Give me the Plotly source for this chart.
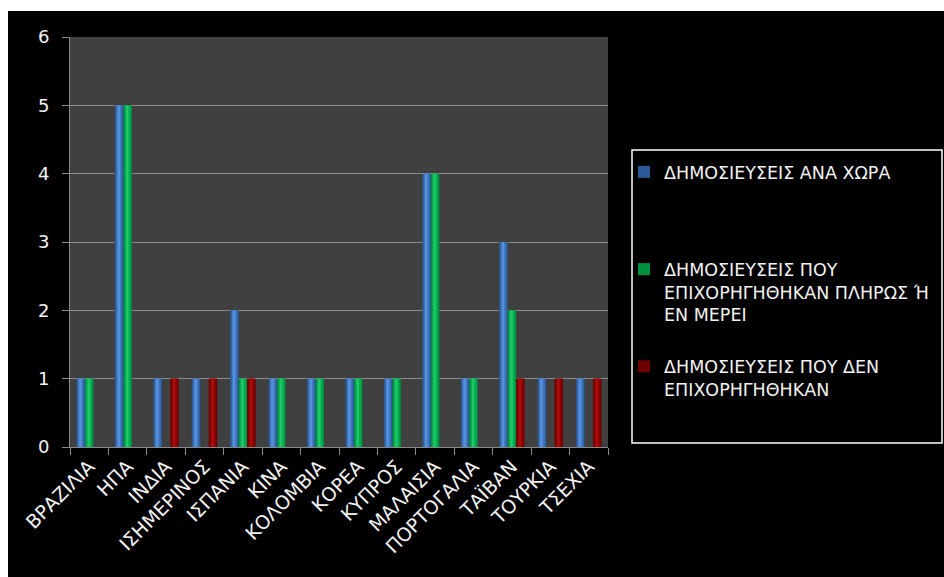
import plotly.graph_objects as go

# Publications per country, split by funding status
countries = ["ΒΡΑΖΙΛΙΑ", "ΗΠΑ", "ΙΝΔΙΑ", "ΙΣΗΜΕΡΙΝΟΣ", "ΙΣΠΑΝΙΑ", "ΚΙΝΑ", "ΚΟΛΟΜΒΙΑ",
             "ΚΟΡΕΑ", "ΚΥΠΡΟΣ", "ΜΑΛΑΙΣΙΑ", "ΠΟΡΤΟΓΑΛΙΑ", "ΤΑΪΒΑΝ", "ΤΟΥΡΚΙΑ", "ΤΣΕΧΙΑ"]
per_country = [1, 5, 1, 1, 2, 1, 1, 1, 1, 4, 1, 3, 1, 1]
funded = [1, 5, 0, 0, 1, 1, 1, 1, 1, 4, 1, 2, 0, 0]
not_funded = [0, 0, 1, 1, 1, 0, 0, 0, 0, 0, 0, 1, 1, 1]

series_names = [
    "ΔΗΜΟΣΙΕΥΣΕΙΣ ΑΝΑ ΧΩΡΑ<br> <br> ",
    "ΔΗΜΟΣΙΕΥΣΕΙΣ ΠΟΥ<br>ΕΠΙΧΟΡΗΓΗΘΗΚΑΝ ΠΛΗΡΩΣ Ή<br>ΕΝ ΜΕΡΕΙ",
    "ΔΗΜΟΣΙΕΥΣΕΙΣ ΠΟΥ ΔΕΝ<br>ΕΠΙΧΟΡΗΓΗΘΗΚΑΝ",
]
y_ticks = [0, 1, 2, 3, 4, 5, 6]

# (edge, mid, highlight) shades for the cylinder-like bars
shades = [
    ("#2c5a98", "#3d74bd", "#5690da"),
    ("#00903f", "#00ad4f", "#22c668"),
    ("#6e0000", "#8c0000", "#a81010"),
]

BW = 0.22
offsets = [-0.33, -0.11, 0.11]
FONT = "DejaVu Sans"

fig = go.Figure()
for i, vals in enumerate([per_country, funded, not_funded]):
    edge, mid, hi = shades[i]
    # base bar
    fig.add_trace(go.Bar(
        x=countries, y=vals, name=series_names[i], legendgroup=f"g{i}",
        width=BW, offset=offsets[i], marker=dict(color=edge, line=dict(width=0)),
        hoverinfo="x+y",
    ))
    # inner shading layers
    fig.add_trace(go.Bar(
        x=countries, y=vals, showlegend=False, legendgroup=f"g{i}",
        width=BW * 0.7, offset=offsets[i] + BW * 0.15,
        marker=dict(color=mid, line=dict(width=0)), hoverinfo="skip",
    ))
    fig.add_trace(go.Bar(
        x=countries, y=vals, showlegend=False, legendgroup=f"g{i}",
        width=BW * 0.3, offset=offsets[i] + BW * 0.3,
        marker=dict(color=hi, line=dict(width=0)), hoverinfo="skip",
    ))

L, R, T, B = 70, 336, 37, 130
pw, ph = 944 - L - R, 577 - T - B

def px_x(p):
    return (p - L) / pw

def px_y(p):
    return (577 - B - p) / ph

fig.update_layout(
    width=944, height=577,
    margin=dict(l=L, r=R, t=T, b=B, autoexpand=False),
    paper_bgcolor="black",
    plot_bgcolor="#404040",
    barmode="overlay",
    font=dict(family=FONT, color="white"),
    showlegend=True,
    legend=dict(
        x=px_x(624), xanchor="left",
        y=px_y(154), yanchor="top",
        bgcolor="rgba(0,0,0,0)", borderwidth=0,
        font=dict(family=FONT, size=17.5, color="#f2f2f2"),
        valign="top", tracegroupgap=26,
        itemwidth=30,
    ),
    xaxis=dict(
        type="category", tickangle=-45, tickson="boundaries",
        ticks="outside", ticklen=7, tickcolor="#8a8a8a",
        showline=True, linecolor="#8a8a8a", linewidth=1,
        showgrid=False, tickfont=dict(family=FONT, size=19, color="#f2f2f2"),
        range=[-0.5, len(countries) - 0.5], automargin=False,
    ),
    yaxis=dict(
        range=[0, 6], tickvals=y_ticks, ticks="outside", ticklen=7,
        tickcolor="#8a8a8a", showline=True, linecolor="#8a8a8a", linewidth=1,
        showgrid=True, gridcolor="#8a8a8a", gridwidth=1, zeroline=False,
        tickfont=dict(family=FONT, size=18, color="#f2f2f2"), ticklabelstandoff=9,
        automargin=False,
    ),
    shapes=[
        # white strips along the top and left edges of the page
        dict(type="rect", xref="paper", yref="paper", x0=-0.2, x1=1.8,
             y0=px_y(11), y1=px_y(-5), fillcolor="white", line=dict(width=0), layer="above"),
        dict(type="rect", xref="paper", yref="paper", x0=px_x(-5), x1=px_x(8),
             y0=px_y(600), y1=px_y(-5), fillcolor="white", line=dict(width=0), layer="above"),
        # legend frame
        dict(type="rect", xref="paper", yref="paper", x0=px_x(632), x1=px_x(942),
             y0=px_y(443), y1=px_y(150), line=dict(color="white", width=1.5),
             fillcolor="rgba(0,0,0,0)", layer="above"),
    ],
)

fig.write_html("out.html")
